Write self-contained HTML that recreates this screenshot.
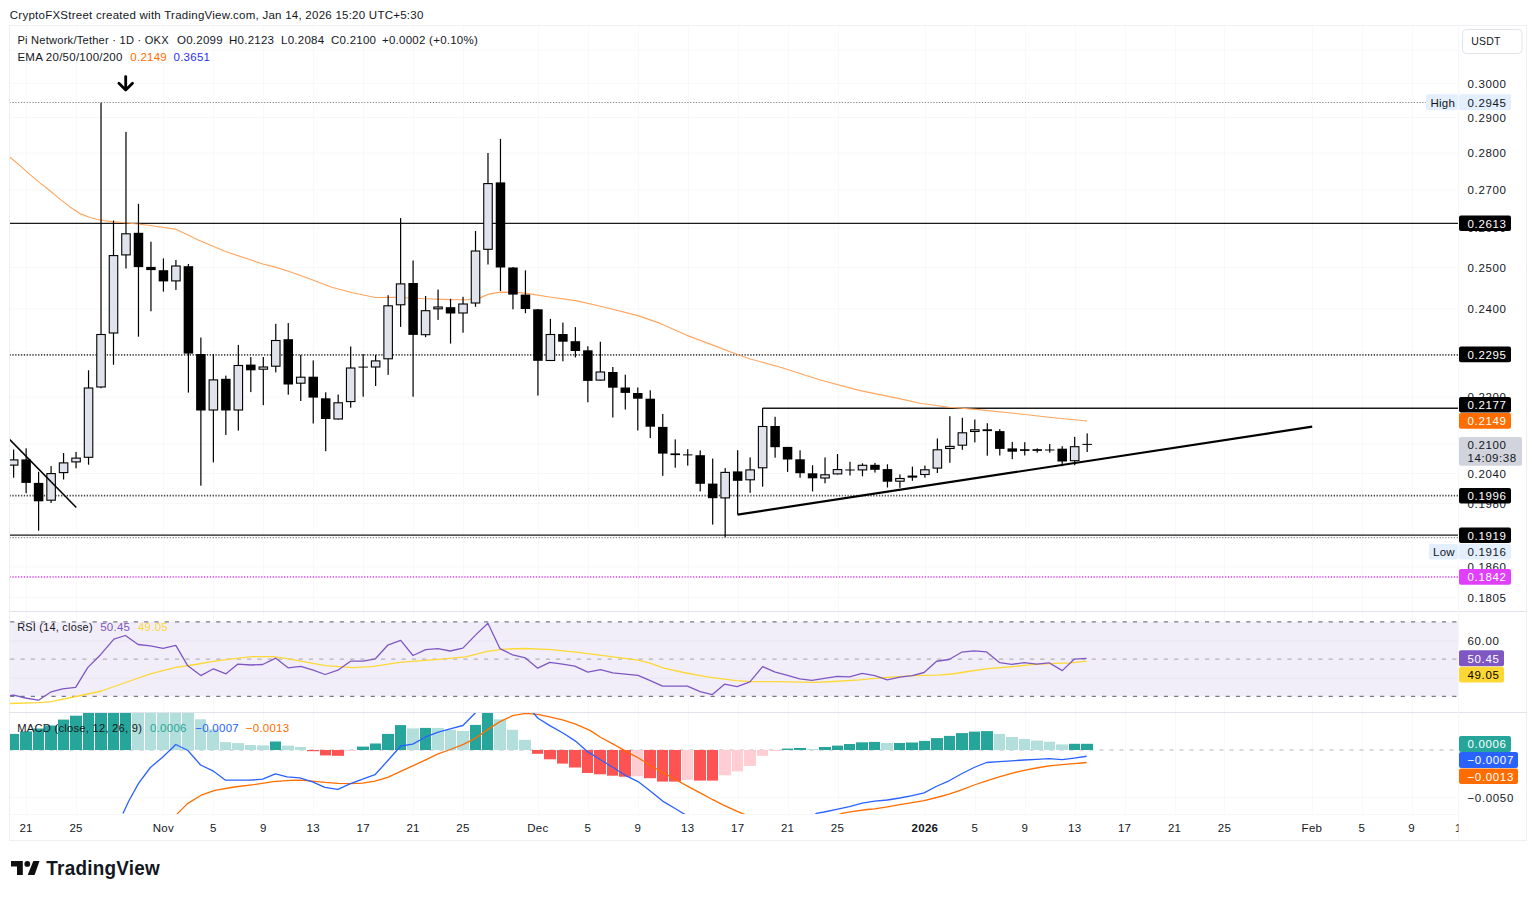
<!DOCTYPE html>
<html><head><meta charset="utf-8"><title>Pi Network/Tether chart</title>
<style>html,body{margin:0;padding:0;background:#fff;width:1536px;height:897px;overflow:hidden}</style>
</head><body>
<svg width="1536" height="897" viewBox="0 0 1536 897" style="position:absolute;left:0;top:0"><defs><clipPath id="cm"><rect x="9.5" y="25.5" width="1449.0" height="586.0"/></clipPath><clipPath id="cr"><rect x="9.5" y="611.5" width="1449.0" height="100.79999999999995"/></clipPath><clipPath id="cd"><rect x="9.5" y="712.3" width="1449.0" height="101.90000000000009"/></clipPath><clipPath id="ct"><rect x="9.5" y="814" width="1449.0" height="30"/></clipPath></defs><line x1="26.5" y1="25.5" x2="26.5" y2="814.2" stroke="#f9f9fb" stroke-width="1"/><line x1="76.5" y1="25.5" x2="76.5" y2="814.2" stroke="#f9f9fb" stroke-width="1"/><line x1="163.5" y1="25.5" x2="163.5" y2="814.2" stroke="#f9f9fb" stroke-width="1"/><line x1="213.5" y1="25.5" x2="213.5" y2="814.2" stroke="#f9f9fb" stroke-width="1"/><line x1="263.5" y1="25.5" x2="263.5" y2="814.2" stroke="#f9f9fb" stroke-width="1"/><line x1="313.5" y1="25.5" x2="313.5" y2="814.2" stroke="#f9f9fb" stroke-width="1"/><line x1="363.5" y1="25.5" x2="363.5" y2="814.2" stroke="#f9f9fb" stroke-width="1"/><line x1="413.5" y1="25.5" x2="413.5" y2="814.2" stroke="#f9f9fb" stroke-width="1"/><line x1="463.5" y1="25.5" x2="463.5" y2="814.2" stroke="#f9f9fb" stroke-width="1"/><line x1="538.5" y1="25.5" x2="538.5" y2="814.2" stroke="#f9f9fb" stroke-width="1"/><line x1="588.5" y1="25.5" x2="588.5" y2="814.2" stroke="#f9f9fb" stroke-width="1"/><line x1="638.5" y1="25.5" x2="638.5" y2="814.2" stroke="#f9f9fb" stroke-width="1"/><line x1="688.5" y1="25.5" x2="688.5" y2="814.2" stroke="#f9f9fb" stroke-width="1"/><line x1="738.5" y1="25.5" x2="738.5" y2="814.2" stroke="#f9f9fb" stroke-width="1"/><line x1="788.5" y1="25.5" x2="788.5" y2="814.2" stroke="#f9f9fb" stroke-width="1"/><line x1="838.5" y1="25.5" x2="838.5" y2="814.2" stroke="#f9f9fb" stroke-width="1"/><line x1="925.5" y1="25.5" x2="925.5" y2="814.2" stroke="#f9f9fb" stroke-width="1"/><line x1="975.5" y1="25.5" x2="975.5" y2="814.2" stroke="#f9f9fb" stroke-width="1"/><line x1="1025.5" y1="25.5" x2="1025.5" y2="814.2" stroke="#f9f9fb" stroke-width="1"/><line x1="1075.5" y1="25.5" x2="1075.5" y2="814.2" stroke="#f9f9fb" stroke-width="1"/><line x1="1125.5" y1="25.5" x2="1125.5" y2="814.2" stroke="#f9f9fb" stroke-width="1"/><line x1="1175.5" y1="25.5" x2="1175.5" y2="814.2" stroke="#f9f9fb" stroke-width="1"/><line x1="1224.5" y1="25.5" x2="1224.5" y2="814.2" stroke="#f9f9fb" stroke-width="1"/><line x1="1312.5" y1="25.5" x2="1312.5" y2="814.2" stroke="#f9f9fb" stroke-width="1"/><line x1="1362.5" y1="25.5" x2="1362.5" y2="814.2" stroke="#f9f9fb" stroke-width="1"/><line x1="1412.5" y1="25.5" x2="1412.5" y2="814.2" stroke="#f9f9fb" stroke-width="1"/><line x1="9.5" y1="50.1" x2="1458.5" y2="50.1" stroke="#f6f7f9" stroke-width="1"/><line x1="9.5" y1="83.2" x2="1458.5" y2="83.2" stroke="#f6f7f9" stroke-width="1"/><line x1="9.5" y1="117.6" x2="1458.5" y2="117.6" stroke="#f6f7f9" stroke-width="1"/><line x1="9.5" y1="153.1" x2="1458.5" y2="153.1" stroke="#f6f7f9" stroke-width="1"/><line x1="9.5" y1="189.9" x2="1458.5" y2="189.9" stroke="#f6f7f9" stroke-width="1"/><line x1="9.5" y1="228.0" x2="1458.5" y2="228.0" stroke="#f6f7f9" stroke-width="1"/><line x1="9.5" y1="267.7" x2="1458.5" y2="267.7" stroke="#f6f7f9" stroke-width="1"/><line x1="9.5" y1="309.0" x2="1458.5" y2="309.0" stroke="#f6f7f9" stroke-width="1"/><line x1="9.5" y1="352.1" x2="1458.5" y2="352.1" stroke="#f6f7f9" stroke-width="1"/><line x1="9.5" y1="397.1" x2="1458.5" y2="397.1" stroke="#f6f7f9" stroke-width="1"/><line x1="9.5" y1="444.1" x2="1458.5" y2="444.1" stroke="#f6f7f9" stroke-width="1"/><line x1="9.5" y1="473.5" x2="1458.5" y2="473.5" stroke="#f6f7f9" stroke-width="1"/><line x1="9.5" y1="503.7" x2="1458.5" y2="503.7" stroke="#f6f7f9" stroke-width="1"/><line x1="9.5" y1="534.8" x2="1458.5" y2="534.8" stroke="#f6f7f9" stroke-width="1"/><line x1="9.5" y1="566.9" x2="1458.5" y2="566.9" stroke="#f6f7f9" stroke-width="1"/><line x1="9.5" y1="597.3" x2="1458.5" y2="597.3" stroke="#f6f7f9" stroke-width="1"/><rect x="9.5" y="621.9" width="1449.0" height="74.39999999999998" fill="#f2eef9"/><line x1="9.5" y1="641.0" x2="1458.5" y2="641.0" stroke="#e9e5f2" stroke-width="1"/><line x1="9.5" y1="678.1" x2="1458.5" y2="678.1" stroke="#e9e5f2" stroke-width="1"/><line x1="10.2" y1="621.9" x2="1458.5" y2="621.9" stroke="#787b86" stroke-width="1.3" stroke-dasharray="4.2 6.1"/><line x1="10.2" y1="659.2" x2="1458.5" y2="659.2" stroke="#b2b3b9" stroke-width="1.3" stroke-dasharray="4.2 6.1"/><line x1="10.2" y1="696.3" x2="1458.5" y2="696.3" stroke="#787b86" stroke-width="1.3" stroke-dasharray="4.2 6.1"/><line x1="9.5" y1="797.3" x2="1458.5" y2="797.3" stroke="#f6f7f9" stroke-width="1"/><g clip-path="url(#cm)"><line x1="9.5" y1="102.5" x2="1426" y2="102.5" stroke="#8a8c94" stroke-width="1.2" stroke-dasharray="1.3 1.56"/><line x1="9.5" y1="223.4" x2="1458.5" y2="223.4" stroke="#1a1a1a" stroke-width="1.35"/><line x1="9.5" y1="354.8" x2="1458.5" y2="354.8" stroke="#444" stroke-width="1.8" stroke-dasharray="1.3 1.56"/><line x1="762.6" y1="408.2" x2="1458.5" y2="408.2" stroke="#1a1a1a" stroke-width="1.35"/><line x1="9.5" y1="495.6" x2="1458.5" y2="495.6" stroke="#444" stroke-width="1.8" stroke-dasharray="1.3 1.56"/><line x1="9.5" y1="535.1" x2="1458.5" y2="535.1" stroke="#1a1a1a" stroke-width="1.35"/><line x1="9.5" y1="537.6" x2="1458.5" y2="537.6" stroke="#8a8c94" stroke-width="1.2" stroke-dasharray="1.3 1.56"/><line x1="9.5" y1="577.1" x2="1458.5" y2="577.1" stroke="#e040fb" stroke-width="1.5" stroke-dasharray="1.3 1.56"/><polyline fill="none" stroke="#ffa55e" stroke-width="1.15" stroke-linejoin="round" points="9.5,156.7 20,165.6 30,174.6 40,182.9 50,190.7 60,199.1 70,206.9 80,213.6 90,217.5 100,220 112,221.6 125,222.7 140,224.2 150,225.5 175.4,229.1 198.3,240 225.4,251.5 262.9,264 275.4,267.1 290,271.7 310.8,279.3 331.7,287.3 352.5,292.8 375.4,297.5 394.2,297.3 425.4,298.75 450,299.6 467,299.7 480,297.9 488,294.4 500,292.1 520,292.6 530,293.9 549.5,297 575.6,300.6 601.6,306.5 638.1,315.6 660.2,323.4 686.25,335.1 712.3,344.9 730,351.8 749.5,358.7 782.1,367.8 821.1,380.2 860.2,390.6 899.3,398.6 920,403.2 949.3,407.3 978.6,409.6 1013.75,413.2 1048.9,417.3 1087,421"/><rect x="13.04" y="449.5" width="1.2" height="28.2" fill="#000"/><rect x="9.39" y="459.9" width="8.5" height="5.2" fill="#e0e3eb" stroke="#000" stroke-width="1.1"/><rect x="25.52" y="448.3" width="1.2" height="44.9" fill="#000"/><rect x="21.37" y="459.4" width="9.5" height="23.5" fill="#000"/><rect x="38.00" y="471.8" width="1.2" height="58.9" fill="#000"/><rect x="33.85" y="482.9" width="9.5" height="18.4" fill="#000"/><rect x="50.49" y="466.1" width="1.2" height="36.9" fill="#000"/><rect x="46.84" y="473.6" width="8.5" height="26.6" fill="#e0e3eb" stroke="#000" stroke-width="1.1"/><rect x="62.97" y="453.1" width="1.2" height="26.4" fill="#000"/><rect x="59.32" y="462.9" width="8.5" height="9.7" fill="#e0e3eb" stroke="#000" stroke-width="1.1"/><rect x="75.45" y="451.9" width="1.2" height="16.4" fill="#000"/><rect x="71.80" y="458.1" width="8.5" height="3.8" fill="#e0e3eb" stroke="#000" stroke-width="1.1"/><rect x="87.94" y="370.3" width="1.2" height="94.4" fill="#000"/><rect x="84.29" y="388.0" width="8.5" height="69.3" fill="#e0e3eb" stroke="#000" stroke-width="1.1"/><rect x="100.42" y="102.7" width="1.2" height="285.5" fill="#000"/><rect x="96.77" y="334.5" width="8.5" height="52.5" fill="#e0e3eb" stroke="#000" stroke-width="1.1"/><rect x="112.90" y="220.5" width="1.2" height="144.3" fill="#000"/><rect x="109.25" y="255.6" width="8.5" height="77.4" fill="#e0e3eb" stroke="#000" stroke-width="1.1"/><rect x="125.38" y="131.9" width="1.2" height="136.6" fill="#000"/><rect x="121.73" y="233.8" width="8.5" height="21.1" fill="#e0e3eb" stroke="#000" stroke-width="1.1"/><rect x="137.87" y="203.8" width="1.2" height="132.9" fill="#000"/><rect x="133.72" y="232.8" width="9.5" height="34.3" fill="#000"/><rect x="150.35" y="241.7" width="1.2" height="69.6" fill="#000"/><rect x="146.20" y="266.9" width="9.5" height="3.2" fill="#000"/><rect x="162.83" y="258.4" width="1.2" height="33.2" fill="#000"/><rect x="158.68" y="270.2" width="9.5" height="11.2" fill="#000"/><rect x="175.32" y="260.0" width="1.2" height="29.9" fill="#000"/><rect x="171.67" y="266.0" width="8.5" height="14.9" fill="#e0e3eb" stroke="#000" stroke-width="1.1"/><rect x="187.80" y="264.0" width="1.2" height="128.6" fill="#000"/><rect x="183.65" y="266.2" width="9.5" height="87.4" fill="#000"/><rect x="200.28" y="337.5" width="1.2" height="148.2" fill="#000"/><rect x="196.13" y="354.0" width="9.5" height="56.5" fill="#000"/><rect x="212.77" y="354.0" width="1.2" height="108.4" fill="#000"/><rect x="209.12" y="379.9" width="8.5" height="30.1" fill="#e0e3eb" stroke="#000" stroke-width="1.1"/><rect x="225.25" y="375.6" width="1.2" height="59.3" fill="#000"/><rect x="221.10" y="378.8" width="9.5" height="31.7" fill="#000"/><rect x="237.73" y="344.9" width="1.2" height="85.7" fill="#000"/><rect x="234.08" y="365.5" width="8.5" height="44.5" fill="#e0e3eb" stroke="#000" stroke-width="1.1"/><rect x="250.21" y="357.0" width="1.2" height="35.1" fill="#000"/><rect x="246.06" y="364.6" width="9.5" height="5.7" fill="#000"/><rect x="262.70" y="357.0" width="1.2" height="48.2" fill="#000"/><rect x="259.05" y="367.0" width="8.5" height="2.2" fill="#e0e3eb" stroke="#000" stroke-width="1.1"/><rect x="275.18" y="323.8" width="1.2" height="48.6" fill="#000"/><rect x="271.53" y="340.5" width="8.5" height="25.7" fill="#e0e3eb" stroke="#000" stroke-width="1.1"/><rect x="287.66" y="323.1" width="1.2" height="71.6" fill="#000"/><rect x="283.51" y="339.2" width="9.5" height="45.3" fill="#000"/><rect x="300.15" y="354.9" width="1.2" height="46.1" fill="#000"/><rect x="296.50" y="377.2" width="8.5" height="6.0" fill="#e0e3eb" stroke="#000" stroke-width="1.1"/><rect x="312.63" y="360.4" width="1.2" height="63.1" fill="#000"/><rect x="308.48" y="376.7" width="9.5" height="20.9" fill="#000"/><rect x="325.11" y="392.3" width="1.2" height="58.9" fill="#000"/><rect x="320.96" y="398.3" width="9.5" height="20.7" fill="#000"/><rect x="337.59" y="394.5" width="1.2" height="25.0" fill="#000"/><rect x="333.94" y="402.8" width="8.5" height="16.2" fill="#e0e3eb" stroke="#000" stroke-width="1.1"/><rect x="350.08" y="346.5" width="1.2" height="61.2" fill="#000"/><rect x="346.43" y="368.0" width="8.5" height="33.6" fill="#e0e3eb" stroke="#000" stroke-width="1.1"/><rect x="362.56" y="354.1" width="1.2" height="42.6" fill="#000"/><rect x="358.41" y="366.6" width="9.5" height="1.0" fill="#000"/><rect x="375.04" y="354.8" width="1.2" height="31.2" fill="#000"/><rect x="371.39" y="360.9" width="8.5" height="6.1" fill="#e0e3eb" stroke="#000" stroke-width="1.1"/><rect x="387.53" y="295.2" width="1.2" height="79.7" fill="#000"/><rect x="383.88" y="305.8" width="8.5" height="53.0" fill="#e0e3eb" stroke="#000" stroke-width="1.1"/><rect x="400.01" y="218.1" width="1.2" height="108.8" fill="#000"/><rect x="396.36" y="283.9" width="8.5" height="20.9" fill="#e0e3eb" stroke="#000" stroke-width="1.1"/><rect x="412.49" y="260.5" width="1.2" height="136.2" fill="#000"/><rect x="408.34" y="283.0" width="9.5" height="51.9" fill="#000"/><rect x="424.98" y="296.0" width="1.2" height="41.2" fill="#000"/><rect x="421.33" y="310.7" width="8.5" height="24.0" fill="#e0e3eb" stroke="#000" stroke-width="1.1"/><rect x="437.46" y="289.6" width="1.2" height="30.3" fill="#000"/><rect x="433.81" y="307.0" width="8.5" height="1.8" fill="#e0e3eb" stroke="#000" stroke-width="1.1"/><rect x="449.94" y="298.8" width="1.2" height="44.8" fill="#000"/><rect x="445.79" y="307.2" width="9.5" height="6.3" fill="#000"/><rect x="462.43" y="296.8" width="1.2" height="35.9" fill="#000"/><rect x="458.78" y="304.0" width="8.5" height="9.0" fill="#e0e3eb" stroke="#000" stroke-width="1.1"/><rect x="474.91" y="231.0" width="1.2" height="75.8" fill="#000"/><rect x="471.26" y="251.0" width="8.5" height="52.0" fill="#e0e3eb" stroke="#000" stroke-width="1.1"/><rect x="487.39" y="153.0" width="1.2" height="111.5" fill="#000"/><rect x="483.74" y="183.6" width="8.5" height="65.7" fill="#e0e3eb" stroke="#000" stroke-width="1.1"/><rect x="499.87" y="138.9" width="1.2" height="152.1" fill="#000"/><rect x="495.72" y="182.4" width="9.5" height="85.1" fill="#000"/><rect x="512.36" y="267.0" width="1.2" height="42.3" fill="#000"/><rect x="508.21" y="267.5" width="9.5" height="27.1" fill="#000"/><rect x="524.84" y="270.4" width="1.2" height="42.8" fill="#000"/><rect x="520.69" y="294.6" width="9.5" height="14.4" fill="#000"/><rect x="537.32" y="309.0" width="1.2" height="86.6" fill="#000"/><rect x="533.17" y="309.3" width="9.5" height="51.5" fill="#000"/><rect x="549.81" y="318.9" width="1.2" height="42.1" fill="#000"/><rect x="546.16" y="334.5" width="8.5" height="26.0" fill="#e0e3eb" stroke="#000" stroke-width="1.1"/><rect x="562.29" y="322.6" width="1.2" height="38.7" fill="#000"/><rect x="558.14" y="334.0" width="9.5" height="7.7" fill="#000"/><rect x="574.77" y="327.1" width="1.2" height="30.3" fill="#000"/><rect x="570.62" y="341.2" width="9.5" height="9.8" fill="#000"/><rect x="587.25" y="346.2" width="1.2" height="56.1" fill="#000"/><rect x="583.11" y="350.3" width="9.5" height="30.6" fill="#000"/><rect x="599.74" y="341.7" width="1.2" height="38.9" fill="#000"/><rect x="596.09" y="372.0" width="8.5" height="8.1" fill="#e0e3eb" stroke="#000" stroke-width="1.1"/><rect x="612.22" y="367.0" width="1.2" height="50.5" fill="#000"/><rect x="608.07" y="372.0" width="9.5" height="15.7" fill="#000"/><rect x="624.70" y="374.7" width="1.2" height="34.8" fill="#000"/><rect x="620.55" y="387.5" width="9.5" height="5.4" fill="#000"/><rect x="637.19" y="387.5" width="1.2" height="43.0" fill="#000"/><rect x="633.04" y="393.0" width="9.5" height="5.7" fill="#000"/><rect x="649.67" y="390.3" width="1.2" height="47.7" fill="#000"/><rect x="645.52" y="398.7" width="9.5" height="28.0" fill="#000"/><rect x="662.15" y="413.9" width="1.2" height="61.9" fill="#000"/><rect x="658.00" y="426.9" width="9.5" height="26.7" fill="#000"/><rect x="674.64" y="439.4" width="1.2" height="28.3" fill="#000"/><rect x="670.49" y="453.4" width="9.5" height="1.7" fill="#000"/><rect x="687.12" y="449.2" width="1.2" height="16.4" fill="#000"/><rect x="682.97" y="454.4" width="9.5" height="1.0" fill="#000"/><rect x="699.60" y="450.4" width="1.2" height="41.0" fill="#000"/><rect x="695.45" y="455.2" width="9.5" height="28.6" fill="#000"/><rect x="712.09" y="458.6" width="1.2" height="66.0" fill="#000"/><rect x="707.94" y="483.6" width="9.5" height="14.6" fill="#000"/><rect x="724.57" y="468.1" width="1.2" height="69.1" fill="#000"/><rect x="720.92" y="472.4" width="8.5" height="25.5" fill="#e0e3eb" stroke="#000" stroke-width="1.1"/><rect x="737.05" y="450.2" width="1.2" height="64.4" fill="#000"/><rect x="732.90" y="471.4" width="9.5" height="9.4" fill="#000"/><rect x="749.53" y="457.4" width="1.2" height="35.4" fill="#000"/><rect x="745.88" y="469.9" width="8.5" height="9.9" fill="#e0e3eb" stroke="#000" stroke-width="1.1"/><rect x="762.02" y="408.1" width="1.2" height="78.6" fill="#000"/><rect x="758.37" y="426.5" width="8.5" height="41.3" fill="#e0e3eb" stroke="#000" stroke-width="1.1"/><rect x="774.50" y="416.8" width="1.2" height="40.9" fill="#000"/><rect x="770.35" y="426.0" width="9.5" height="21.2" fill="#000"/><rect x="786.98" y="446.9" width="1.2" height="25.0" fill="#000"/><rect x="782.83" y="446.9" width="9.5" height="12.6" fill="#000"/><rect x="799.47" y="450.3" width="1.2" height="27.5" fill="#000"/><rect x="795.32" y="459.3" width="9.5" height="13.9" fill="#000"/><rect x="811.95" y="465.2" width="1.2" height="26.2" fill="#000"/><rect x="807.80" y="473.3" width="9.5" height="5.0" fill="#000"/><rect x="824.43" y="457.4" width="1.2" height="25.9" fill="#000"/><rect x="820.78" y="474.8" width="8.5" height="3.2" fill="#e0e3eb" stroke="#000" stroke-width="1.1"/><rect x="836.91" y="454.0" width="1.2" height="20.4" fill="#000"/><rect x="833.26" y="469.6" width="8.5" height="4.3" fill="#e0e3eb" stroke="#000" stroke-width="1.1"/><rect x="849.40" y="461.8" width="1.2" height="13.7" fill="#000"/><rect x="845.25" y="469.5" width="9.5" height="1.0" fill="#000"/><rect x="861.88" y="463.3" width="1.2" height="13.0" fill="#000"/><rect x="858.23" y="465.3" width="8.5" height="4.6" fill="#e0e3eb" stroke="#000" stroke-width="1.1"/><rect x="874.36" y="462.9" width="1.2" height="9.7" fill="#000"/><rect x="870.21" y="464.8" width="9.5" height="5.0" fill="#000"/><rect x="886.85" y="464.3" width="1.2" height="23.2" fill="#000"/><rect x="882.70" y="469.1" width="9.5" height="12.6" fill="#000"/><rect x="899.33" y="474.4" width="1.2" height="13.4" fill="#000"/><rect x="895.68" y="478.5" width="8.5" height="2.7" fill="#e0e3eb" stroke="#000" stroke-width="1.1"/><rect x="911.81" y="466.6" width="1.2" height="14.2" fill="#000"/><rect x="908.16" y="476.1" width="8.5" height="1.0" fill="#e0e3eb" stroke="#000" stroke-width="1.1"/><rect x="924.30" y="465.6" width="1.2" height="12.1" fill="#000"/><rect x="920.65" y="469.8" width="8.5" height="4.7" fill="#e0e3eb" stroke="#000" stroke-width="1.1"/><rect x="936.78" y="438.5" width="1.2" height="34.5" fill="#000"/><rect x="933.13" y="449.8" width="8.5" height="18.3" fill="#e0e3eb" stroke="#000" stroke-width="1.1"/><rect x="949.26" y="416.2" width="1.2" height="46.6" fill="#000"/><rect x="945.61" y="446.4" width="8.5" height="2.1" fill="#e0e3eb" stroke="#000" stroke-width="1.1"/><rect x="961.75" y="417.8" width="1.2" height="32.0" fill="#000"/><rect x="958.10" y="432.8" width="8.5" height="12.4" fill="#e0e3eb" stroke="#000" stroke-width="1.1"/><rect x="974.23" y="419.5" width="1.2" height="22.9" fill="#000"/><rect x="970.58" y="429.8" width="8.5" height="1.7" fill="#e0e3eb" stroke="#000" stroke-width="1.1"/><rect x="986.71" y="423.2" width="1.2" height="32.5" fill="#000"/><rect x="982.56" y="429.3" width="9.5" height="1.8" fill="#000"/><rect x="999.19" y="429.1" width="1.2" height="26.4" fill="#000"/><rect x="995.04" y="431.1" width="9.5" height="17.8" fill="#000"/><rect x="1011.68" y="442.0" width="1.2" height="17.2" fill="#000"/><rect x="1007.53" y="448.4" width="9.5" height="3.3" fill="#000"/><rect x="1024.16" y="442.2" width="1.2" height="13.3" fill="#000"/><rect x="1020.01" y="449.2" width="9.5" height="1.7" fill="#000"/><rect x="1036.64" y="448.4" width="1.2" height="4.3" fill="#000"/><rect x="1032.49" y="449.2" width="9.5" height="1.7" fill="#000"/><rect x="1049.13" y="444.0" width="1.2" height="8.7" fill="#000"/><rect x="1044.98" y="449.5" width="9.5" height="1.0" fill="#000"/><rect x="1061.61" y="446.2" width="1.2" height="20.0" fill="#000"/><rect x="1057.46" y="448.7" width="9.5" height="12.8" fill="#000"/><rect x="1074.09" y="436.9" width="1.2" height="28.3" fill="#000"/><rect x="1070.44" y="446.7" width="8.5" height="14.0" fill="#e0e3eb" stroke="#000" stroke-width="1.1"/><rect x="1086.58" y="433.4" width="1.2" height="18.6" fill="#000"/><rect x="1082.42" y="443.9" width="9.5" height="1.0" fill="#000"/><line x1="9.5" y1="439.4" x2="76.3" y2="507.5" stroke="#000" stroke-width="1.5"/><line x1="737.6" y1="514.6" x2="1312.2" y2="426.7" stroke="#000" stroke-width="2.2"/><path d="M125.7 76.6 V89" stroke="#000" stroke-width="2.8" fill="none" stroke-linecap="round"/><path d="M118.9 83.2 L125.7 89.9 L132.5 83.2" stroke="#000" stroke-width="2.8" fill="none" stroke-linecap="round" stroke-linejoin="round"/></g><g clip-path="url(#cr)"><polyline fill="none" stroke="#fdd835" stroke-width="1.3" stroke-linejoin="round" points="9.8,703.5 39,702.6 50.8,701.6 76.2,696.5 101.6,691 127,682 150.4,673.8 175.8,667.4 195.3,664.5 214.8,661.1 234.4,658.6 252,656.6 273.4,656.6 290,659.2 325.2,665.7 352.5,667.6 372,666.6 399.4,662.3 438.4,659.4 465.8,656.9 487.3,651.4 504.8,649.1 524.4,648.5 551.7,649.6 580,652.6 609.3,656.3 636.6,659.8 648.4,662.7 664,668.2 683.5,672.5 707,676.8 736.2,680.7 751.9,681.7 775.3,681.7 814.4,682.3 833.9,681.5 859.3,679.9 875.6,678.3 891.3,677.2 914.7,675.6 938.1,675.2 953.8,673.75 969.4,671.25 988.1,668.6 1008.4,667 1031.9,664.7 1050.6,663.6 1070.9,662.8 1086.6,661.1"/><polyline fill="none" stroke="#7e57c2" stroke-width="1.3" stroke-linejoin="round" points="9.8,695.7 13.7,695.1 25.4,698 38.5,700.2 51.2,691.8 62.5,688.9 75.6,687.3 87.9,667.4 100.6,654.7 113.9,639.1 125.4,635.5 138.1,644.5 150.4,645.9 163.1,648.4 175.8,645.3 187.5,665.4 200.8,675.6 213.5,668.8 226,673.8 237.9,664.1 250.4,665 262.7,664.5 275.8,658.2 288.1,667.8 300.7,666.3 313.2,670.2 325.2,674.5 337.9,670.2 350.5,661.2 363.2,661.2 375.4,658.8 387.7,645.2 400.7,640.3 413,655.5 425.7,649.6 437.9,648.7 450.2,651 462.9,648.1 475.2,635.4 487.9,623.3 500,648.7 512.7,654.9 525.4,657.9 537.7,668.2 549.8,662.3 562.5,664.1 574.8,666.1 587.8,672.1 600.5,669.6 612.8,672.9 625.3,674.1 638,675.4 650.3,680.7 662.6,686.2 675.1,686.2 687.4,686.2 700.1,691.6 712.4,694.6 724.5,684.2 737.2,686.6 749.9,681.9 762.6,666.6 775.3,672.1 787.6,675.4 799.7,678.8 812,680.3 824.5,678.4 837.2,676.4 849.5,676.8 862.2,673.4 874.8,675.6 887.3,679.8 899.8,677.2 912.3,675.6 924.1,672.5 936.6,661.25 949.1,659.5 961.6,652.2 974.1,650.9 986.6,651.9 999.8,662.7 1011.6,664.4 1024.1,662.7 1036.6,664.2 1049.1,662.8 1062.3,670.6 1074.1,659.2 1086.6,658.4"/></g><g clip-path="url(#cd)"><line x1="9.5" y1="750.0" x2="1458.5" y2="750.0" stroke="#b2b5be" stroke-width="1" stroke-dasharray="4 6"/><rect x="8" y="733.9" width="11" height="16.1" fill="#26a69a"/><rect x="20" y="731.4" width="12" height="18.6" fill="#26a69a"/><rect x="33" y="728.5" width="11" height="21.5" fill="#26a69a"/><rect x="45" y="725.5" width="12" height="24.5" fill="#26a69a"/><rect x="58" y="719.6" width="11" height="30.4" fill="#26a69a"/><rect x="70" y="715.7" width="12" height="34.3" fill="#26a69a"/><rect x="83" y="700.0" width="11" height="50.0" fill="#26a69a"/><rect x="95" y="700.0" width="12" height="50.0" fill="#26a69a"/><rect x="108" y="700.0" width="11" height="50.0" fill="#26a69a"/><rect x="120" y="700.0" width="11" height="50.0" fill="#26a69a"/><rect x="132" y="700.0" width="12" height="50.0" fill="#b2dfdb"/><rect x="145" y="700.0" width="11" height="50.0" fill="#b2dfdb"/><rect x="157" y="700.0" width="12" height="50.0" fill="#b2dfdb"/><rect x="170" y="700.0" width="11" height="50.0" fill="#b2dfdb"/><rect x="182" y="700.0" width="12" height="50.0" fill="#b2dfdb"/><rect x="195" y="719.3" width="11" height="30.7" fill="#b2dfdb"/><rect x="207" y="729.4" width="12" height="20.6" fill="#b2dfdb"/><rect x="220" y="742.1" width="11" height="7.9" fill="#b2dfdb"/><rect x="232" y="743.1" width="12" height="6.9" fill="#b2dfdb"/><rect x="245" y="745.0" width="11" height="5.0" fill="#b2dfdb"/><rect x="257" y="745.4" width="12" height="4.6" fill="#b2dfdb"/><rect x="270" y="741.5" width="11" height="8.5" fill="#26a69a"/><rect x="282" y="745.6" width="12" height="4.4" fill="#b2dfdb"/><rect x="295" y="747.0" width="11" height="3.0" fill="#b2dfdb"/><rect x="307" y="750.0" width="12" height="1.2" fill="#ff5252"/><rect x="320" y="750.0" width="11" height="5.4" fill="#ff5252"/><rect x="332" y="750.0" width="12" height="5.8" fill="#ff5252"/><rect x="345" y="750.0" width="11" height="1.0" fill="#ffcdd2"/><rect x="357" y="746.6" width="12" height="3.4" fill="#26a69a"/><rect x="370" y="743.5" width="11" height="6.5" fill="#26a69a"/><rect x="382" y="733.9" width="12" height="16.1" fill="#26a69a"/><rect x="395" y="725.1" width="11" height="24.9" fill="#26a69a"/><rect x="407" y="728.4" width="12" height="21.6" fill="#b2dfdb"/><rect x="420" y="727.9" width="11" height="22.1" fill="#26a69a"/><rect x="432" y="727.9" width="12" height="22.1" fill="#b2dfdb"/><rect x="445" y="729.8" width="11" height="20.2" fill="#b2dfdb"/><rect x="457" y="731.0" width="12" height="19.0" fill="#b2dfdb"/><rect x="470" y="724.9" width="11" height="25.1" fill="#26a69a"/><rect x="482" y="700.0" width="11" height="50.0" fill="#26a69a"/><rect x="494" y="719.3" width="12" height="30.7" fill="#b2dfdb"/><rect x="507" y="729.8" width="11" height="20.2" fill="#b2dfdb"/><rect x="519" y="739.8" width="12" height="10.2" fill="#b2dfdb"/><rect x="532" y="750.0" width="11" height="3.8" fill="#ff5252"/><rect x="544" y="750.0" width="12" height="9.3" fill="#ff5252"/><rect x="557" y="750.0" width="11" height="13.6" fill="#ff5252"/><rect x="569" y="750.0" width="12" height="17.5" fill="#ff5252"/><rect x="582" y="750.0" width="11" height="23.0" fill="#ff5252"/><rect x="594" y="750.0" width="12" height="24.3" fill="#ff5252"/><rect x="607" y="750.0" width="11" height="25.7" fill="#ff5252"/><rect x="619" y="750.0" width="12" height="26.7" fill="#ff5252"/><rect x="632" y="750.0" width="11" height="26.3" fill="#ffcdd2"/><rect x="644" y="750.0" width="12" height="28.2" fill="#ff5252"/><rect x="657" y="750.0" width="11" height="31.6" fill="#ff5252"/><rect x="669" y="750.0" width="12" height="31.6" fill="#ff5252"/><rect x="682" y="750.0" width="11" height="29.8" fill="#ffcdd2"/><rect x="694" y="750.0" width="12" height="30.6" fill="#ff5252"/><rect x="707" y="750.0" width="11" height="30.6" fill="#ff5252"/><rect x="719" y="750.0" width="12" height="25.3" fill="#ffcdd2"/><rect x="732" y="750.0" width="11" height="21.4" fill="#ffcdd2"/><rect x="744" y="750.0" width="12" height="15.9" fill="#ffcdd2"/><rect x="757" y="750.0" width="11" height="5.8" fill="#ffcdd2"/><rect x="769" y="750.0" width="12" height="1.0" fill="#ffcdd2"/><rect x="782" y="748.6" width="11" height="1.4" fill="#26a69a"/><rect x="794" y="748.0" width="12" height="2.0" fill="#26a69a"/><rect x="807" y="749.0" width="11" height="1.0" fill="#b2dfdb"/><rect x="819" y="747.0" width="12" height="3.0" fill="#26a69a"/><rect x="832" y="745.6" width="11" height="4.4" fill="#26a69a"/><rect x="844" y="744.0" width="11" height="6.0" fill="#26a69a"/><rect x="856" y="742.3" width="12" height="7.7" fill="#26a69a"/><rect x="869" y="741.9" width="11" height="8.1" fill="#26a69a"/><rect x="881" y="743.0" width="12" height="7.0" fill="#b2dfdb"/><rect x="894" y="743.0" width="11" height="7.0" fill="#26a69a"/><rect x="906" y="742.5" width="12" height="7.5" fill="#26a69a"/><rect x="919" y="740.9" width="11" height="9.1" fill="#26a69a"/><rect x="931" y="738.1" width="12" height="11.9" fill="#26a69a"/><rect x="944" y="735.9" width="11" height="14.1" fill="#26a69a"/><rect x="956" y="733.1" width="12" height="16.9" fill="#26a69a"/><rect x="969" y="731.6" width="11" height="18.4" fill="#26a69a"/><rect x="981" y="731.1" width="12" height="18.9" fill="#26a69a"/><rect x="994" y="733.9" width="11" height="16.1" fill="#b2dfdb"/><rect x="1006" y="737.0" width="12" height="13.0" fill="#b2dfdb"/><rect x="1019" y="738.9" width="11" height="11.1" fill="#b2dfdb"/><rect x="1031" y="740.6" width="12" height="9.4" fill="#b2dfdb"/><rect x="1044" y="741.7" width="11" height="8.3" fill="#b2dfdb"/><rect x="1056" y="744.4" width="12" height="5.6" fill="#b2dfdb"/><rect x="1069" y="743.8" width="11" height="6.2" fill="#26a69a"/><rect x="1081" y="743.8" width="12" height="6.2" fill="#26a69a"/><polyline fill="none" stroke="#ff6d00" stroke-width="1.3" stroke-linejoin="round" points="175,817 177.7,813.4 187.5,803.6 201.2,795.2 214.8,790.4 234.4,787 253.9,784.7 273.4,781.6 290,780.4 299.8,780.2 312.5,781.2 325.2,782.4 337.9,783.3 350.5,783.7 362.7,783.1 375,781.2 387.7,777.3 400.7,771.4 412.7,765.9 425.2,760.1 437.5,754.2 450.2,749.5 462.9,744.6 475.5,738.2 487.9,729.4 500,721.6 512.7,715.7 525.4,713.4 537.7,714.4 550.7,717.1 563.4,720.2 575.5,724.1 590,730.4 600.5,737.2 613.2,744.1 625.3,750.9 638,757.7 650.3,765.2 662.6,772.4 675.1,779.2 687.4,786.1 700.1,792.9 712.8,799.7 724.5,805.6 736.2,810.9 742.1,813.4 750,817 835,817 841.7,813.4 853.4,811.4 867.1,809.5 874.8,808.9 887.3,806.9 899.8,804.7 912.3,802.7 924.1,800.6 936.6,797.5 949.1,794.1 961.6,789.8 974.1,785 986.6,780.8 999.1,776.9 1011.6,773.3 1024.1,770.3 1036.6,768 1049.1,765.9 1062.3,764.7 1074.1,763.6 1086.6,762.5"/><polyline fill="none" stroke="#2962ff" stroke-width="1.3" stroke-linejoin="round" points="123,813.4 128.9,800.7 138.7,783.1 150.4,767.5 163.1,756.8 175.8,744.5 187.9,750.5 200.6,765 212.9,770.8 225.6,780.2 237.9,780.2 250,780.2 262.7,779.2 275.4,773.9 287.1,776.9 299.8,777.9 312.5,781.8 324.8,787.4 337.9,789.4 350.5,783.7 362.7,779.2 375,774.7 387.7,760.7 400.7,746 412.7,744.1 425.2,737.2 437.5,732.3 450.2,728.8 462.9,725.5 475.5,712.8 487.9,690 500,685 512.7,690 525.4,700 533.2,712.8 538,718.3 550.7,726.1 563.4,733.3 575.5,741.1 587.9,751.9 600.5,759.7 613.2,767.5 625.3,775.3 638,781.6 650.3,790.9 662.6,801.1 675.1,808.5 687.4,816 700,830 800,830 816.3,813.4 824.1,812 837.8,809.1 849.5,806.6 862.2,803.2 874.8,801.1 887.3,800 899.8,798 912.3,795.6 924.1,792.8 936.6,786.25 949.1,780.8 961.6,773.75 974.1,767.5 986.6,762.5 999.1,761.6 1011.6,760.8 1024.1,760 1036.6,759.4 1049.1,758.6 1062.3,759.7 1074.1,758.1 1086.6,756.25"/></g><rect x="9.5" y="25.5" width="1517" height="815" fill="none" stroke="#eeeff2" stroke-width="1"/><line x1="9.5" y1="611.5" x2="1526.5" y2="611.5" stroke="#e0e3eb" stroke-width="1"/><line x1="9.5" y1="712.5" x2="1526.5" y2="712.5" stroke="#e0e3eb" stroke-width="1"/><line x1="9.5" y1="814.5" x2="1458.5" y2="814.5" stroke="#f6f7f9" stroke-width="1"/><line x1="1458.5" y1="25.5" x2="1458.5" y2="840.5" stroke="#f6f7f9" stroke-width="1"/><text x="17.4" y="44.2" font-family="Liberation Sans, sans-serif" font-size="11.5" fill="#131722" text-anchor="start" font-weight="normal" letter-spacing="0.25" textLength="151.5" lengthAdjust="spacingAndGlyphs">Pi Network/Tether · 1D · OKX</text><text x="177" y="44.2" font-family="Liberation Sans, sans-serif" font-size="11.5" fill="#131722" text-anchor="start" font-weight="normal" letter-spacing="0.25" >O0.2099</text><text x="229" y="44.2" font-family="Liberation Sans, sans-serif" font-size="11.5" fill="#131722" text-anchor="start" font-weight="normal" letter-spacing="0.25" >H0.2123</text><text x="281" y="44.2" font-family="Liberation Sans, sans-serif" font-size="11.5" fill="#131722" text-anchor="start" font-weight="normal" letter-spacing="0.25" >L0.2084</text><text x="331" y="44.2" font-family="Liberation Sans, sans-serif" font-size="11.5" fill="#131722" text-anchor="start" font-weight="normal" letter-spacing="0.25" >C0.2100</text><text x="382" y="44.2" font-family="Liberation Sans, sans-serif" font-size="11.5" fill="#131722" text-anchor="start" font-weight="normal" letter-spacing="0.25" >+0.0002 (+0.10%)</text><text x="17.4" y="60.5" font-family="Liberation Sans, sans-serif" font-size="11.5" fill="#131722" text-anchor="start" font-weight="normal" letter-spacing="0.25" >EMA 20/50/100/200</text><text x="130.3" y="60.5" font-family="Liberation Sans, sans-serif" font-size="11.5" fill="#ff6d00" text-anchor="start" font-weight="normal" letter-spacing="0.25" >0.2149</text><text x="173.5" y="60.5" font-family="Liberation Sans, sans-serif" font-size="11.5" fill="#2a2ff5" text-anchor="start" font-weight="normal" letter-spacing="0.25" >0.3651</text><text x="17.2" y="631" font-family="Liberation Sans, sans-serif" font-size="11.5" fill="#131722" text-anchor="start" font-weight="normal" letter-spacing="0.25" textLength="75.6" lengthAdjust="spacingAndGlyphs">RSI (14, close)</text><text x="100.2" y="631" font-family="Liberation Sans, sans-serif" font-size="11.5" fill="#7e57c2" text-anchor="start" font-weight="normal" letter-spacing="0.25" >50.45</text><text x="137.9" y="631" font-family="Liberation Sans, sans-serif" font-size="11.5" fill="#fdd835" text-anchor="start" font-weight="normal" letter-spacing="0.25" >49.05</text><text x="17.2" y="731.8" font-family="Liberation Sans, sans-serif" font-size="11.5" fill="#131722" text-anchor="start" font-weight="normal" letter-spacing="0.25" textLength="125" lengthAdjust="spacingAndGlyphs">MACD (close, 12, 26, 9)</text><text x="150" y="731.8" font-family="Liberation Sans, sans-serif" font-size="11.5" fill="#26a69a" text-anchor="start" font-weight="normal" letter-spacing="0.25" >0.0006</text><text x="195.3" y="731.8" font-family="Liberation Sans, sans-serif" font-size="11.5" fill="#2962ff" text-anchor="start" font-weight="normal" letter-spacing="0.25" >−0.0007</text><text x="245.7" y="731.8" font-family="Liberation Sans, sans-serif" font-size="11.5" fill="#ff6d00" text-anchor="start" font-weight="normal" letter-spacing="0.25" >−0.0013</text><text x="1467.5" y="87.55" font-family="Liberation Sans, sans-serif" font-size="11.5" fill="#131722" text-anchor="start" font-weight="normal" letter-spacing="0.65" >0.3000</text><text x="1467.5" y="121.85158998545445" font-family="Liberation Sans, sans-serif" font-size="11.5" fill="#131722" text-anchor="start" font-weight="normal" letter-spacing="0.65" >0.2900</text><text x="1467.5" y="157.35698737049745" font-family="Liberation Sans, sans-serif" font-size="11.5" fill="#131722" text-anchor="start" font-weight="normal" letter-spacing="0.65" >0.2800</text><text x="1467.5" y="194.1537697425885" font-family="Liberation Sans, sans-serif" font-size="11.5" fill="#131722" text-anchor="start" font-weight="normal" letter-spacing="0.65" >0.2700</text><text x="1467.5" y="232.33943359563318" font-family="Liberation Sans, sans-serif" font-size="11.5" fill="#131722" text-anchor="start" font-weight="normal" letter-spacing="0.65" >0.2600</text><text x="1467.5" y="272.0229511641233" font-family="Liberation Sans, sans-serif" font-size="11.5" fill="#131722" text-anchor="start" font-weight="normal" letter-spacing="0.65" >0.2500</text><text x="1467.5" y="313.3266452197175" font-family="Liberation Sans, sans-serif" font-size="11.5" fill="#131722" text-anchor="start" font-weight="normal" letter-spacing="0.65" >0.2400</text><text x="1467.5" y="356.388463088655" font-family="Liberation Sans, sans-serif" font-size="11.5" fill="#131722" text-anchor="start" font-weight="normal" letter-spacing="0.65" >0.2300</text><text x="1467.5" y="401.36475645782474" font-family="Liberation Sans, sans-serif" font-size="11.5" fill="#131722" text-anchor="start" font-weight="normal" letter-spacing="0.65" >0.2200</text><text x="1467.5" y="477.76329808556613" font-family="Liberation Sans, sans-serif" font-size="11.5" fill="#131722" text-anchor="start" font-weight="normal" letter-spacing="0.65" >0.2040</text><text x="1467.5" y="507.96852620041335" font-family="Liberation Sans, sans-serif" font-size="11.5" fill="#131722" text-anchor="start" font-weight="normal" letter-spacing="0.65" >0.1980</text><text x="1467.5" y="571.226623394127" font-family="Liberation Sans, sans-serif" font-size="11.5" fill="#131722" text-anchor="start" font-weight="normal" letter-spacing="0.65" >0.1860</text><text x="1467.5" y="601.5967069064878" font-family="Liberation Sans, sans-serif" font-size="11.5" fill="#131722" text-anchor="start" font-weight="normal" letter-spacing="0.65" >0.1805</text><rect x="1426" y="94.3" width="32" height="16" rx="2" fill="#e3effd"/><text x="1430.5" y="106.6" font-family="Liberation Sans, sans-serif" font-size="11.5" fill="#131722" text-anchor="start" font-weight="normal" letter-spacing="0.25" >High</text><rect x="1459" y="94.3" width="52" height="16.0" rx="2" fill="#e3effd"/><text x="1467.5" y="106.6" font-family="Liberation Sans, sans-serif" font-size="11.5" fill="#131722" text-anchor="start" font-weight="normal" letter-spacing="0.65" >0.2945</text><rect x="1459" y="215.5" width="52" height="15.5" rx="2" fill="#000"/><text x="1467.5" y="227.55" font-family="Liberation Sans, sans-serif" font-size="11.5" fill="#fff" text-anchor="start" font-weight="normal" letter-spacing="0.65" >0.2613</text><rect x="1459" y="346.6" width="52" height="15.699999999999989" rx="2" fill="#000"/><text x="1467.5" y="358.75000000000006" font-family="Liberation Sans, sans-serif" font-size="11.5" fill="#fff" text-anchor="start" font-weight="normal" letter-spacing="0.65" >0.2295</text><rect x="1459" y="397" width="52" height="15.600000000000023" rx="2" fill="#000"/><text x="1467.5" y="409.1" font-family="Liberation Sans, sans-serif" font-size="11.5" fill="#fff" text-anchor="start" font-weight="normal" letter-spacing="0.65" >0.2177</text><rect x="1459" y="413" width="52" height="15.800000000000011" rx="2" fill="#ff6d00"/><text x="1467.5" y="425.2" font-family="Liberation Sans, sans-serif" font-size="11.5" fill="#fff" text-anchor="start" font-weight="normal" letter-spacing="0.65" >0.2149</text><rect x="1459" y="437.1" width="63" height="28.7" rx="2" fill="#d1d4dc"/><text x="1467.5" y="448.5" font-family="Liberation Sans, sans-serif" font-size="11.5" fill="#131722" text-anchor="start" font-weight="normal" letter-spacing="0.65" >0.2100</text><text x="1467.5" y="462" font-family="Liberation Sans, sans-serif" font-size="11.5" fill="#131722" text-anchor="start" font-weight="normal" letter-spacing="0.55" >14:09:38</text><rect x="1459" y="488" width="52" height="15.600000000000023" rx="2" fill="#000"/><text x="1467.5" y="500.1" font-family="Liberation Sans, sans-serif" font-size="11.5" fill="#fff" text-anchor="start" font-weight="normal" letter-spacing="0.65" >0.1996</text><rect x="1459" y="527.6" width="52" height="15.399999999999977" rx="2" fill="#000"/><text x="1467.5" y="539.5999999999999" font-family="Liberation Sans, sans-serif" font-size="11.5" fill="#fff" text-anchor="start" font-weight="normal" letter-spacing="0.65" >0.1919</text><rect x="1429" y="544" width="29" height="15.5" rx="2" fill="#e3effd"/><text x="1433" y="555.8" font-family="Liberation Sans, sans-serif" font-size="11.5" fill="#131722" text-anchor="start" font-weight="normal" letter-spacing="0.25" >Low</text><rect x="1459" y="544" width="52" height="15.5" rx="2" fill="#e3effd"/><text x="1467.5" y="556.05" font-family="Liberation Sans, sans-serif" font-size="11.5" fill="#131722" text-anchor="start" font-weight="normal" letter-spacing="0.65" >0.1916</text><rect x="1459" y="569" width="52" height="15.799999999999955" rx="2" fill="#e040fb"/><text x="1467.5" y="581.1999999999999" font-family="Liberation Sans, sans-serif" font-size="11.5" fill="#fff" text-anchor="start" font-weight="normal" letter-spacing="0.65" >0.1842</text><text x="1467.5" y="645" font-family="Liberation Sans, sans-serif" font-size="11.5" fill="#131722" text-anchor="start" font-weight="normal" letter-spacing="0.65" >60.00</text><rect x="1459" y="650.3" width="45" height="16.0" rx="2" fill="#7e57c2"/><text x="1467.5" y="662.5999999999999" font-family="Liberation Sans, sans-serif" font-size="11.5" fill="#fff" text-anchor="start" font-weight="normal" letter-spacing="0.65" >50.45</text><rect x="1459" y="666.7" width="45" height="15.899999999999977" rx="2" fill="#fdd835"/><text x="1467.5" y="678.95" font-family="Liberation Sans, sans-serif" font-size="11.5" fill="#000" text-anchor="start" font-weight="normal" letter-spacing="0.65" >49.05</text><rect x="1459" y="736.1" width="52" height="15.899999999999977" rx="2" fill="#26a69a"/><text x="1467.5" y="748.3499999999999" font-family="Liberation Sans, sans-serif" font-size="11.5" fill="#fff" text-anchor="start" font-weight="normal" letter-spacing="0.65" >0.0006</text><rect x="1459" y="752" width="59" height="16" rx="2" fill="#2962ff"/><text x="1467.5" y="764.3" font-family="Liberation Sans, sans-serif" font-size="11.5" fill="#fff" text-anchor="start" font-weight="normal" letter-spacing="0.65" >−0.0007</text><rect x="1459" y="768.5" width="59" height="15.5" rx="2" fill="#ff6d00"/><text x="1467.5" y="780.55" font-family="Liberation Sans, sans-serif" font-size="11.5" fill="#fff" text-anchor="start" font-weight="normal" letter-spacing="0.65" >−0.0013</text><text x="1467.5" y="801.5" font-family="Liberation Sans, sans-serif" font-size="11.5" fill="#131722" text-anchor="start" font-weight="normal" letter-spacing="0.65" >−0.0050</text><rect x="1462.5" y="29.5" width="59.5" height="24" rx="4" fill="#fff" stroke="#e0e3eb" stroke-width="1"/><text x="1471.2" y="45.4" font-family="Liberation Sans, sans-serif" font-size="11.5" fill="#131722" text-anchor="start" font-weight="normal" letter-spacing="0.25" textLength="29.4" lengthAdjust="spacingAndGlyphs">USDT</text><g clip-path="url(#ct)"><text x="26.1" y="832" font-family="Liberation Sans, sans-serif" font-size="11.5" fill="#131722" text-anchor="middle" font-weight="normal" letter-spacing="0.25" >21</text><text x="76.1" y="832" font-family="Liberation Sans, sans-serif" font-size="11.5" fill="#131722" text-anchor="middle" font-weight="normal" letter-spacing="0.25" >25</text><text x="163.4" y="832" font-family="Liberation Sans, sans-serif" font-size="11.5" fill="#131722" text-anchor="middle" font-weight="normal" letter-spacing="0.25" >Nov</text><text x="213.4" y="832" font-family="Liberation Sans, sans-serif" font-size="11.5" fill="#131722" text-anchor="middle" font-weight="normal" letter-spacing="0.25" >5</text><text x="263.3" y="832" font-family="Liberation Sans, sans-serif" font-size="11.5" fill="#131722" text-anchor="middle" font-weight="normal" letter-spacing="0.25" >9</text><text x="313.2" y="832" font-family="Liberation Sans, sans-serif" font-size="11.5" fill="#131722" text-anchor="middle" font-weight="normal" letter-spacing="0.25" >13</text><text x="363.2" y="832" font-family="Liberation Sans, sans-serif" font-size="11.5" fill="#131722" text-anchor="middle" font-weight="normal" letter-spacing="0.25" >17</text><text x="413.1" y="832" font-family="Liberation Sans, sans-serif" font-size="11.5" fill="#131722" text-anchor="middle" font-weight="normal" letter-spacing="0.25" >21</text><text x="463.0" y="832" font-family="Liberation Sans, sans-serif" font-size="11.5" fill="#131722" text-anchor="middle" font-weight="normal" letter-spacing="0.25" >25</text><text x="537.9" y="832" font-family="Liberation Sans, sans-serif" font-size="11.5" fill="#131722" text-anchor="middle" font-weight="normal" letter-spacing="0.25" >Dec</text><text x="587.9" y="832" font-family="Liberation Sans, sans-serif" font-size="11.5" fill="#131722" text-anchor="middle" font-weight="normal" letter-spacing="0.25" >5</text><text x="637.8" y="832" font-family="Liberation Sans, sans-serif" font-size="11.5" fill="#131722" text-anchor="middle" font-weight="normal" letter-spacing="0.25" >9</text><text x="687.7" y="832" font-family="Liberation Sans, sans-serif" font-size="11.5" fill="#131722" text-anchor="middle" font-weight="normal" letter-spacing="0.25" >13</text><text x="737.7" y="832" font-family="Liberation Sans, sans-serif" font-size="11.5" fill="#131722" text-anchor="middle" font-weight="normal" letter-spacing="0.25" >17</text><text x="787.6" y="832" font-family="Liberation Sans, sans-serif" font-size="11.5" fill="#131722" text-anchor="middle" font-weight="normal" letter-spacing="0.25" >21</text><text x="837.5" y="832" font-family="Liberation Sans, sans-serif" font-size="11.5" fill="#131722" text-anchor="middle" font-weight="normal" letter-spacing="0.25" >25</text><text x="924.9" y="832" font-family="Liberation Sans, sans-serif" font-size="11.5" fill="#131722" text-anchor="middle" font-weight="bold" letter-spacing="0.25" >2026</text><text x="974.8" y="832" font-family="Liberation Sans, sans-serif" font-size="11.5" fill="#131722" text-anchor="middle" font-weight="normal" letter-spacing="0.25" >5</text><text x="1024.8" y="832" font-family="Liberation Sans, sans-serif" font-size="11.5" fill="#131722" text-anchor="middle" font-weight="normal" letter-spacing="0.25" >9</text><text x="1074.7" y="832" font-family="Liberation Sans, sans-serif" font-size="11.5" fill="#131722" text-anchor="middle" font-weight="normal" letter-spacing="0.25" >13</text><text x="1124.6" y="832" font-family="Liberation Sans, sans-serif" font-size="11.5" fill="#131722" text-anchor="middle" font-weight="normal" letter-spacing="0.25" >17</text><text x="1174.6" y="832" font-family="Liberation Sans, sans-serif" font-size="11.5" fill="#131722" text-anchor="middle" font-weight="normal" letter-spacing="0.25" >21</text><text x="1224.5" y="832" font-family="Liberation Sans, sans-serif" font-size="11.5" fill="#131722" text-anchor="middle" font-weight="normal" letter-spacing="0.25" >25</text><text x="1311.9" y="832" font-family="Liberation Sans, sans-serif" font-size="11.5" fill="#131722" text-anchor="middle" font-weight="normal" letter-spacing="0.25" >Feb</text><text x="1361.8" y="832" font-family="Liberation Sans, sans-serif" font-size="11.5" fill="#131722" text-anchor="middle" font-weight="normal" letter-spacing="0.25" >5</text><text x="1411.7" y="832" font-family="Liberation Sans, sans-serif" font-size="11.5" fill="#131722" text-anchor="middle" font-weight="normal" letter-spacing="0.25" >9</text><text x="1461.7" y="832" font-family="Liberation Sans, sans-serif" font-size="11.5" fill="#131722" text-anchor="middle" font-weight="normal" letter-spacing="0.25" >13</text></g><text x="9.8" y="18.7" font-family="Liberation Sans, sans-serif" font-size="11.5" fill="#131722" text-anchor="start" font-weight="normal" letter-spacing="0.25" >CryptoFXStreet created with TradingView.com, Jan 14, 2026 15:20 UTC+5:30</text><g fill="#0f0f0f"><path d="M11.0 861.0 H22.8 V875.0 H17.0 V866.4 H11.0 Z"/><circle cx="27.3" cy="863.9" r="2.9"/><path d="M33.3 861.0 H39.5 L34.6 875.0 H27.7 Z"/></g><text x="46.3" y="875.2" font-family="Liberation Sans, sans-serif" font-size="19.5" fill="#131722" text-anchor="start" font-weight="bold" letter-spacing="0.25" textLength="113.7" lengthAdjust="spacingAndGlyphs">TradingView</text></svg>
</body></html>
